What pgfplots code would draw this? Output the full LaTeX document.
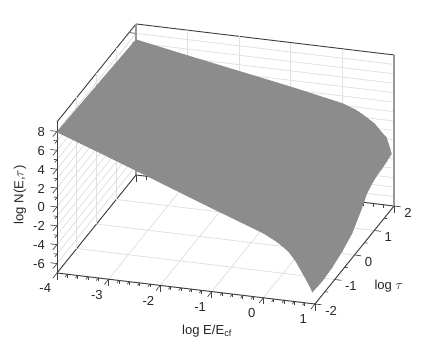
\documentclass[border=0pt]{standalone}
\usepackage{fontspec}
\setmainfont{Liberation Sans}
\usepackage{pgfplots}
\pgfplotsset{compat=1.18}
\definecolor{axline}{gray}{0.25}
\definecolor{gridl}{gray}{0.88}
\definecolor{wall}{gray}{0.6}
\begin{document}
\begin{tikzpicture}
\useasboundingbox (-227.175pt,-122.46pt) rectangle (99.825pt,137.04pt);
\begin{axis}[
  at={(0pt,0pt)}, anchor=origin, clip=false,
  x={(38.7pt,-4.65pt)}, y={(14.8125pt,18.375pt)}, z={(0pt,7.08pt)},
  xmin=-4, xmax=1, ymin=-2, ymax=2, zmin=-7, zmax=9,
  xtick={-4,-3,-2,-1,0,1}, ytick={-2,-1,0,1,2}, ztick={-6,-4,-2,0,2,4,6,8},
  minor x tick num=4, minor z tick num=1,
  xtick pos=left, ztick pos=left,
  yticklabels={},
  y tick style={draw=none},
  xmajorgrids, ymajorgrids, zmajorgrids, zminorgrids,
  major grid style={gridl, line width=0.6pt},
  minor grid style={gridl, line width=0.6pt},
  axis line style={axline, line width=0.7pt},
  tick style={axline, line width=0.5pt},
  tick align=outside,
  major tick length=5pt, minor tick length=2.5pt,
  every tick label/.append style={font=\fontsize{9.8}{12}\selectfont, text=black!85},
  xticklabel style={xshift=-3pt},
  zticklabel style={anchor=east, xshift=-2.5pt, yshift=3.5pt},
  /pgf/number format/assume math mode=true,
  label style={font=\fontsize{9.8}{12}\selectfont, text=black!85},
  xlabel={log E/E$_{\mathrm{cf}}$},
  ylabel={log $\tau$},
  zlabel={log N(E,$\tau$)},
  xlabel style={at={(axis cs:-1.09,-2,-11.24)}, anchor=center, rotate=0, sloped=false},
  ylabel style={at={(axis cs:2.43,-2,-4.15)}, anchor=center, rotate=0, sloped=false},
  zlabel style={at={(axis cs:-4.717,-2,0.797)}, anchor=center, rotate=0, sloped=false},
  colormap={flatgray}{gray(0cm)=(0.55); gray(1cm)=(0.55)},
]
% back verticals are lighter than the rest of the box
\addplot3[wall, line width=1pt, forget plot] coordinates {(-4,2,-7) (-4,2,9)};
\addplot3[wall, line width=1pt, forget plot] coordinates {(1,2,-7) (1,2,9)};
\addplot3[surf, shader=flat] table {
-4 -2 7.94
-3 -2 5.95
-2 -2 3.90
-1 -2 1.85
-0.5 -2 0.85
0 -2 -0.15
0.25 -2 -0.85
0.375 -2 -1.30
0.5 -2 -1.85
0.625 -2 -2.68
0.75 -2 -3.80
0.85 -2 -4.70
0.9 -2 -5.18
0.95 -2 -5.76

-4 -1.5 7.86
-3 -1.5 5.99
-2 -1.5 4.08
-1 -1.5 2.16
-0.5 -1.5 1.20
0 -1.5 0.23
0.25 -1.5 -0.50
0.375 -1.5 -0.96
0.5 -1.5 -1.50
0.625 -1.5 -2.38
0.75 -1.5 -3.55
0.85 -1.5 -4.60
0.9 -1.5 -5.19
0.95 -1.5 -5.88

-4 -1 7.79
-3 -1 6.03
-2 -1 4.26
-1 -1 2.47
-0.5 -1 1.55
0 -1 0.62
0.25 -1 -0.12
0.375 -1 -0.58
0.5 -1 -1.15
0.625 -1 -2.03
0.75 -1 -3.20
0.85 -1 -4.30
0.9 -1 -4.97
0.95 -1 -5.73

-4 -0.5 7.71
-3 -0.5 6.07
-2 -0.5 4.44
-1 -0.5 2.77
-0.5 -0.5 1.90
0 -0.5 1.00
0.25 -0.5 0.25
0.375 -0.5 -0.20
0.5 -0.5 -0.75
0.625 -0.5 -1.63
0.75 -0.5 -2.80
0.85 -0.5 -3.90
0.9 -0.5 -4.58
0.95 -0.5 -5.35

-4 0 7.63
-3 0 6.12
-2 0 4.60
-1 0 3.08
-0.5 0 2.25
0 0 1.40
0.25 0 0.65
0.375 0 0.20
0.5 0 -0.35
0.625 0 -1.18
0.75 0 -2.30
0.85 0 -3.40
0.9 0 -4.03
0.95 0 -4.75

-4 0.25 7.60
-3 0.25 6.14
-2 0.25 4.69
-1 0.25 3.23
-0.5 0.25 2.42
0 0.25 1.59
0.25 0.25 0.85
0.375 0.25 0.42
0.5 0.25 -0.12
0.625 0.25 -0.89
0.75 0.25 -1.95
0.85 0.25 -2.95
0.9 0.25 -3.45
0.95 0.25 -4.05

-4 0.5 7.56
-3 0.5 6.16
-2 0.5 4.78
-1 0.5 3.38
-0.5 0.5 2.60
0 0.5 1.78
0.25 0.5 1.05
0.375 0.5 0.63
0.5 0.5 0.10
0.625 0.5 -0.60
0.75 0.5 -1.60
0.85 0.5 -2.45
0.9 0.5 -2.85
0.95 0.5 -3.35

-4 0.75 7.52
-3 0.75 6.18
-2 0.75 4.87
-1 0.75 3.53
-0.5 0.75 2.77
0 0.75 1.98
0.25 0.75 1.30
0.375 0.75 0.90
0.5 0.75 0.40
0.625 0.75 -0.25
0.75 0.75 -1.20
0.85 0.75 -1.85
0.9 0.75 -2.11
0.95 0.75 -2.47

-4 1 7.48
-3 1 6.21
-2 1 4.96
-1 1 3.69
-0.5 1 2.95
0 1 2.20
0.25 1 1.55
0.375 1 1.18
0.5 1 0.70
0.625 1 0.10
0.75 1 -0.80
0.85 1 -1.40
0.9 1 -1.70
0.95 1 -2.10

-4 1.25 7.44
-3 1.25 6.23
-2 1.25 5.04
-1 1.25 3.85
-0.5 1.25 3.15
0 1.25 2.45
0.25 1.25 1.85
0.375 1.25 1.48
0.5 1.25 1.02
0.625 1.25 0.49
0.75 1.25 -0.35
0.85 1.25 -1.05
0.9 1.25 -1.42
0.95 1.25 -1.89

-4 1.5 7.41
-3 1.5 6.25
-2 1.5 5.13
-1 1.5 4.00
-0.5 1.5 3.35
0 1.5 2.70
0.25 1.5 2.15
0.375 1.5 1.80
0.5 1.5 1.35
0.625 1.5 0.85
0.75 1.5 0.05
0.85 1.5 -0.65
0.9 1.5 -1.18
0.95 1.5 -1.81

-4 1.75 7.37
-3 1.75 6.28
-2 1.75 5.22
-1 1.75 4.15
-0.5 1.75 3.55
0 1.75 2.95
0.25 1.75 2.42
0.375 1.75 2.08
0.5 1.75 1.65
0.625 1.75 1.18
0.75 1.75 0.40
0.85 1.75 -0.25
0.9 1.75 -0.91
0.95 1.75 -1.68

-4 2 7.33
-3 2 6.30
-2 2 5.30
-1 2 4.30
-0.5 2 3.75
0 2 3.20
0.25 2 2.70
0.375 2 2.33
0.5 2 1.90
0.625 2 1.45
0.75 2 0.69
0.85 2 0.15
0.9 2 -0.62
0.95 2 -1.50
};
% tau ticks and labels go on the floor edge only
\pgfplotsinvokeforeach{-2,-1,0,1,2}{
  \draw[axline, line width=0.5pt] (axis cs:1,#1,-7) -- (axis cs:1.13,#1,-7);
  \node[anchor=west, inner sep=0pt, xshift=7.5pt, yshift=-5.2pt,
        font=\fontsize{9.8}{12}\selectfont, text=black!85] at (axis cs:1,#1,-7) {#1};
}
\pgfplotsinvokeforeach{-1.5,-0.5,0.5,1.5}{
  \draw[axline, line width=0.5pt] (axis cs:1,#1,-7) -- (axis cs:1.065,#1,-7);
}
\end{axis}
\end{tikzpicture}
\end{document}
